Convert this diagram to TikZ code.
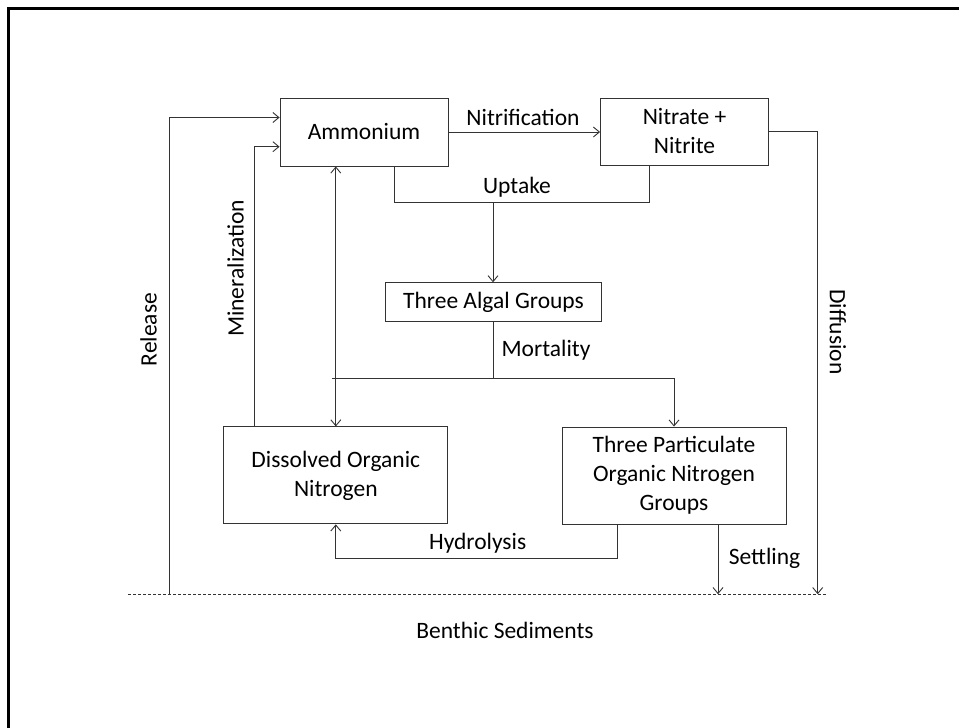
\documentclass[tikz,border=0pt]{standalone}
\usepackage{fontspec}
\setmainfont{Carlito}
\usetikzlibrary{arrows.meta,calc}
\begin{document}
\begin{tikzpicture}[x=1pt,y=-1pt,
  every node/.style={font=\fontsize{23.5}{29}\selectfont, text=black},
  box/.style={draw=black!80, line width=0.9pt, rectangle, inner sep=0pt, align=center},
  conn/.style={draw=black!80, line width=0.9pt},
  arr/.style={conn, -{Straight Barb[length=6pt,width=10pt]}},
  arrb/.style={conn, {Straight Barb[length=6pt,width=10pt]}-{Straight Barb[length=6pt,width=10pt]}},
  lbl/.style={inner sep=0pt}
]
\useasboundingbox (0,0) rectangle (959,728);
% frame (top and left edges visible)
\draw[line width=3pt, black] (8,728) -- (8,8) -- (959,8);

% boxes
\node[box, minimum width=168pt, minimum height=68pt] (amm) at (364,132) {Ammonium};
\node[box, minimum width=168pt, minimum height=67pt] (nit) at (684.5,131.5) {Nitrate +\\Nitrite};
\node[box, minimum width=216.5pt, minimum height=38.5pt] (alg) at (493.5,302) {Three Algal Groups};
\node[box, minimum width=224pt, minimum height=97pt] (don) at (335.8,475.4) {Dissolved Organic\\Nitrogen};
\node[box, minimum width=224pt, minimum height=97pt] (pom) at (674,475.5) {Three Particulate\\Organic Nitrogen\\Groups};

% coordinates
\coordinate (uj) at (493,202.5);
\coordinate (mj) at (493.5,378.4);
\coordinate (ml) at (332,378.4);
\coordinate (hj) at (335.8,558.5);
\coordinate (dl1) at (128.4,594.2);
\coordinate (dl2) at (825.7,594.2);
\coordinate (rl) at (169.4,594.2);
\coordinate (dr) at (817.7,594.2);
\coordinate (sx) at ($(pom.south)+(44,0)$);
\coordinate (hx) at ($(pom.south)+(-56.3,0)$);
\coordinate (ux1) at ($(amm.south)+(30,0)$);
\coordinate (ux2) at ($(nit.south)+(-35.5,0)$);
\coordinate (mx) at ($(don.north)+(-81.4,0)$);
\coordinate (ma) at ($(amm.west)+(0,14.7)$);
\coordinate (ra) at ($(amm.west)+(0,-14.5)$);

% sediment line
\draw[black!80, line width=0.9pt, dash pattern=on 3pt off 2pt] (dl1) -- (dl2);

% nitrification
\draw[arr] (amm.east) -- (amm.east -| nit.west);
% uptake
\draw[conn] (ux1) |- (uj) -| (ux2);
\draw[arr] (uj) -- (uj |- alg.north);
% mortality
\draw[conn] (alg.south -| mj) -- (mj);
\draw[conn] (ml) -- (mj);
\draw[arr] (mj) -| (pom.north);
% ammonium <-> DON
\draw[arrb] (don.north |- amm.south) -- (don.north);
% mineralization
\draw[arr] (mx) |- (ma);
% release
\draw[arr] (rl) |- (ra);
% diffusion
\draw[arr] (nit.east) -| (dr);
% hydrolysis
\draw[arr] (hx) |- (hj) -- (don.south);
% settling
\draw[arr] (sx) -- (sx |- dl1);

% labels
\node[lbl] (lnit) at (523,117) {Nitrification};
\node[lbl] (lupt) at (517,187.5) {Uptake};
\node[lbl] (lmor) at (546,350.5) {Mortality};
\node[lbl] (lhyd) at (477.7,543) {Hydrolysis};
\node[lbl] (lset) at (764.5,558.5) {Settling};
\node[lbl, rotate=90] (lrel) at (148.6,329.6) {Release};
\node[lbl, rotate=90] (lmin) at (235.5,268.3) {Mineralization};
\node[lbl, rotate=-90] (ldif) at (838,332) {Diffusion};
\node[lbl] (lben) at (505,630.5) {Benthic Sediments};
\end{tikzpicture}
\end{document}
